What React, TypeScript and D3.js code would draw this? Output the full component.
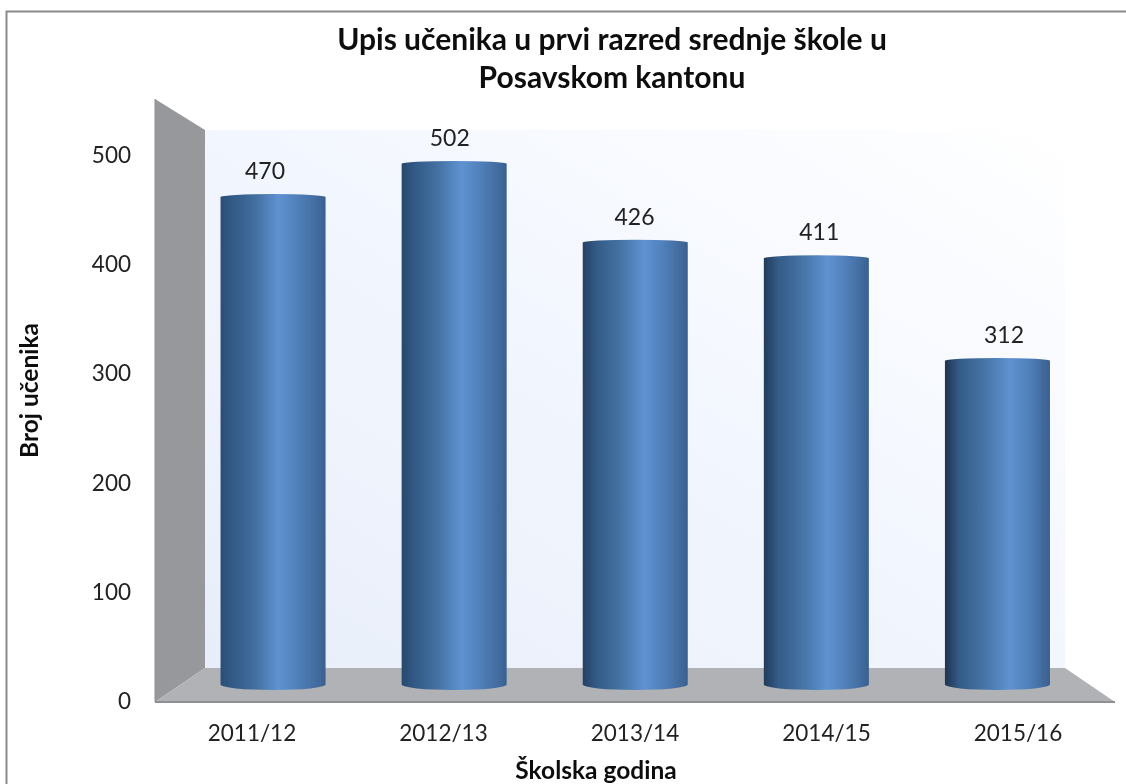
import React from "react";
import * as d3 from "d3";

const categories = ["2011/12", "2012/13", "2013/14", "2014/15", "2015/16"];
const values = [470, 502, 426, 411, 312];
const yTicks = [0, 100, 200, 300, 400, 500];
const titleLines = ["Upis učenika u prvi razred srednje škole u", "Posavskom kantonu"];
const xTitle = "Školska godina";
const yTitle = "Broj učenika";

const FONT = "Lato, 'Noto Sans', sans-serif";
const W = 1126, H = 784;

const x = d3.scaleBand<string>().domain(categories).range([182.5, 1088]).paddingInner(0.42).paddingOuter(0.21);
const xCatLabel = d3.scalePoint<string>().domain(categories).range([252, 1018]);
const xValLabel = d3.scalePoint<string>().domain(categories).range([265, 1004]);
const yBar = d3.scaleLinear().domain([0, 500]).range([684.5, 166]);
const yFront = d3.scaleLinear().domain([0, 500]).range([701, 155]);
const depth = { left: 155, backLeft: 205, backRight: 1065, right: 1115, floorBack: 668, floorFront: 702, top: 99, backTop: 130 };

const lefts = d3.scaleLinear().domain([0, 4]).range([0, 1]);
const stopColor = d3.interpolateRgb("#2b4e78", "#1f3450");

export default function App() {
  const bw = x.bandwidth();
  const rx = bw / 2;
  return (
    <svg width={W} height={H} style={{ position: "absolute", left: 0, top: 0, background: "#fff" }}>
      <defs>
        <filter id="soft" x="-2%" y="-2%" width="104%" height="104%">
          <feGaussianBlur stdDeviation="0.7" />
        </filter>
        <linearGradient id="wall" x1="0" y1="1" x2="1" y2="0">
          <stop offset="0" stopColor="#e8eef9" />
          <stop offset="0.5" stopColor="#f2f6fe" />
          <stop offset="1" stopColor="#ffffff" />
        </linearGradient>
        {categories.map((c, i) => {
          const peak = 0.55 + 0.018 * i;
          return (
            <linearGradient key={c} id={`bar${i}`} x1="0" y1="0" x2="1" y2="0">
              <stop offset="0" stopColor={stopColor(lefts(i))} />
              <stop offset="0.14" stopColor="#345c88" />
              <stop offset="0.33" stopColor="#426f9f" />
              <stop offset={peak} stopColor="#5f92d2" />
              <stop offset={peak + 0.18} stopColor="#5080ba" />
              <stop offset="0.94" stopColor="#41699b" />
              <stop offset="1" stopColor="#38608f" />
            </linearGradient>
          );
        })}
      </defs>
      <g filter="url(#soft)">
        <rect x={6.5} y={11.5} width={W} height={H} fill="#fff" stroke="#8a8a8a" strokeWidth={2} />
        <rect x={depth.backLeft} y={depth.backTop} width={depth.backRight - depth.backLeft} height={depth.floorBack - depth.backTop} fill="url(#wall)" />
        <path
          d={d3.line()([[depth.left, depth.top], [depth.backLeft, depth.backTop], [depth.backLeft, depth.floorBack], [depth.left, depth.floorFront]])! + "Z"}
          fill="#97989c"
        />
        <path
          d={d3.line()([[depth.left, depth.floorFront], [depth.backLeft, depth.floorBack], [depth.backRight, depth.floorBack], [depth.right, depth.floorFront]])! + "Z"}
          fill="#b0b2b6"
        />
        <line x1={depth.left} x2={depth.right} y1={depth.floorFront} y2={depth.floorFront} stroke="#8f9093" strokeWidth={2} />
        <line x1={depth.left} x2={depth.left} y1={depth.top} y2={depth.floorFront} stroke="#8f9093" strokeWidth={1} />
        {categories.map((c, i) => {
          const l = x(c)!;
          const t = yBar(values[i]);
          const b = yBar(0);
          return (
            <g key={c}>
              <path
                d={`M${l},${t} A${rx},3 0 0 1 ${l + bw},${t} L${l + bw},${b} A${rx},5.5 0 0 1 ${l},${b} Z`}
                fill={`url(#bar${i})`}
              />
              <text x={xValLabel(c)!} y={t - 18} fontFamily={FONT} fontSize={23} fill="#222" textAnchor="middle">
                {values[i]}
              </text>
              <text x={xCatLabel(c)!} y={741} fontFamily={FONT} fontSize={22.5} fill="#222" textAnchor="middle">
                {c}
              </text>
            </g>
          );
        })}
        {yTicks.map((t) => (
          <text key={t} x={131} y={yFront(t) + 8} fontFamily={FONT} fontSize={22.5} fill="#222" textAnchor="end">
            {t}
          </text>
        ))}
        {titleLines.map((s, i) => (
          <text key={s} x={612} y={50 + i * 38} fontFamily={FONT} fontSize={30} fontWeight={700} fill="#111" textAnchor="middle">
            {s}
          </text>
        ))}
        <text x={596} y={779} fontFamily={FONT} fontSize={24.5} fontWeight={700} fill="#111" textAnchor="middle">
          {xTitle}
        </text>
        <text transform="translate(37.5,390.5) rotate(-90)" fontFamily={FONT} fontSize={24.5} fontWeight={700} fill="#111" textAnchor="middle">
          {yTitle}
        </text>
      </g>
    </svg>
  );
}
